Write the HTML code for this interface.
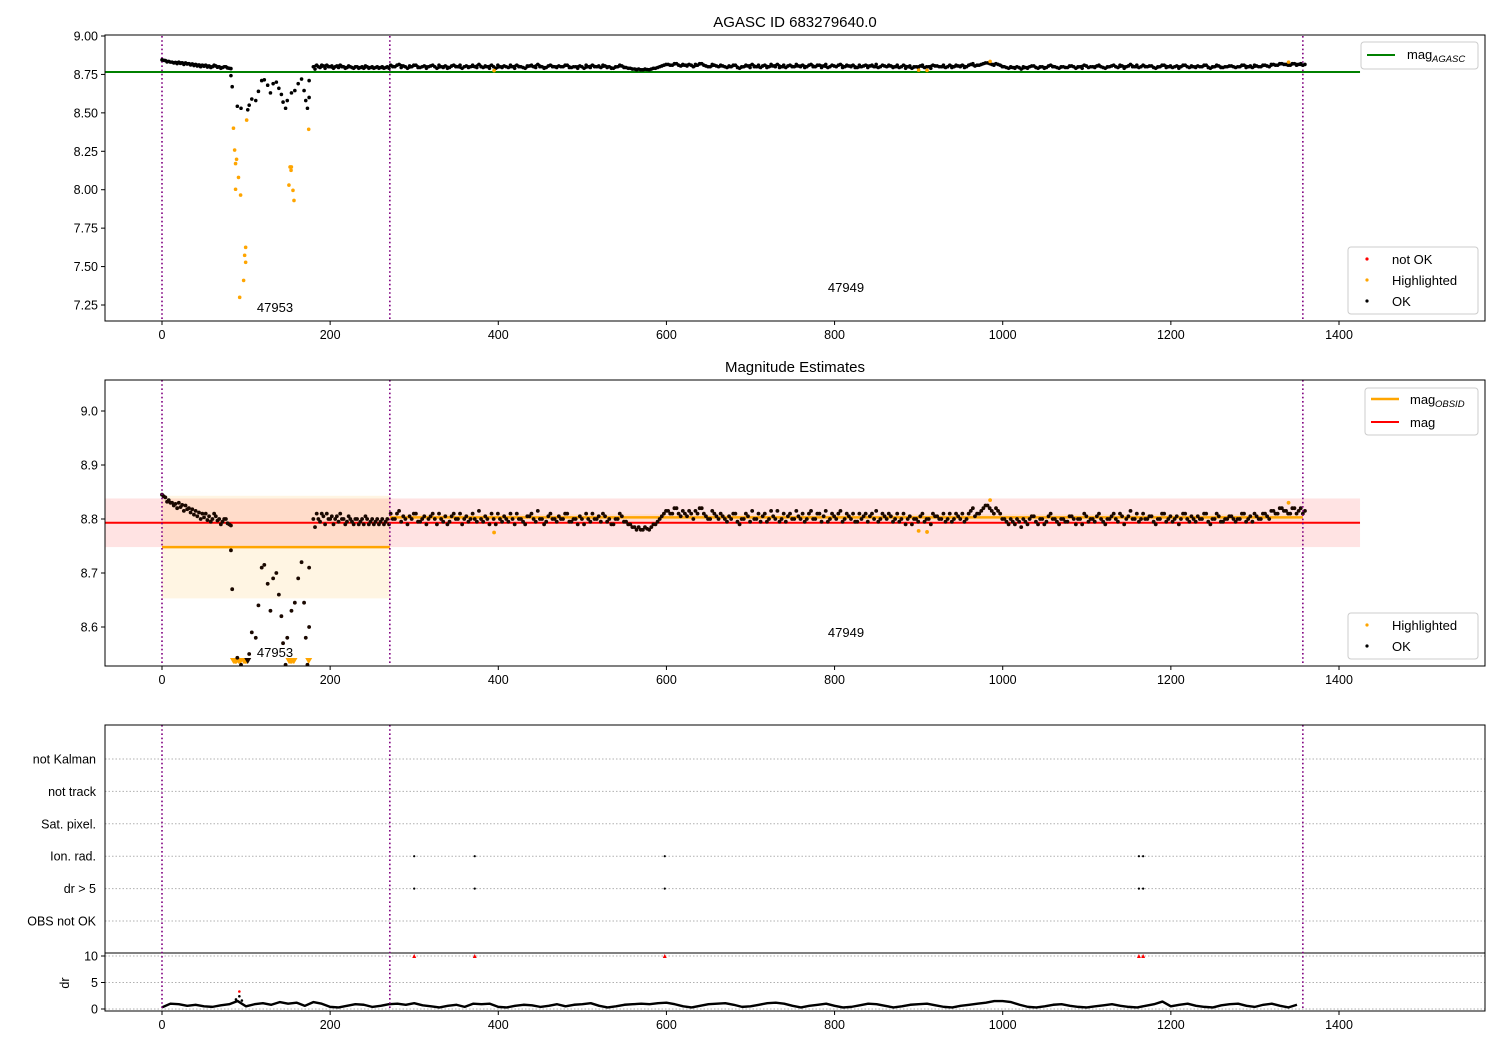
<!DOCTYPE html>
<html><head><meta charset="utf-8"><style>
body{margin:0;background:#fff}
svg{display:block;font-family:"Liberation Sans","DejaVu Sans",sans-serif}
</style></head><body>
<svg id="c" width="1500" height="1050" xmlns="http://www.w3.org/2000/svg"></svg>
<script>
// ---- data ----
const seg1Start = 0, seg1Step = 4;
const seg1Mag = [8.845,8.84,8.835,8.83,8.828,8.83,8.826,8.825,8.82,8.818,8.815,8.812,8.81,8.81,8.805,8.80,8.805,8.80,8.795,8.80,8.79];
const seg1MagB = [8.842,8.832,8.83,8.825,8.82,8.822,8.815,8.818,8.812,8.808,8.805,8.80,8.803,8.798,8.795,8.81,8.797,8.79,8.80,8.792,8.788];
const dipTime = [82,83.5,89.6,94,102,103.7,106.8,111.5,114.7,118.6,121.7,125.7,129,132.2,136,139,142,144,147,149,154,158,162,166,169,171,173,175,175];
const dipMag  = [8.742,8.67,8.543,8.53,8.52,8.55,8.59,8.58,8.64,8.71,8.715,8.68,8.63,8.69,8.70,8.66,8.62,8.57,8.53,8.58,8.63,8.645,8.69,8.72,8.645,8.58,8.53,8.71,8.60];
const seg2Start = 180, seg2Step = 4;
const seg2Mag = [8.80,8.81,8.795,8.805,8.81,8.80,8.79,8.805,8.81,8.80,8.795,8.80,8.79,8.80,8.795,8.79,8.80,8.795,8.79,8.80,8.795,8.79,8.80];
const seg2MagB = [8.785,8.80,8.81,8.79,8.80,8.805,8.80,8.795,8.80,8.79,8.805,8.795,8.80,8.79,8.80,8.805,8.79,8.80,8.795,8.79,8.80,8.795,8.79];
const seg3Start = 272, seg3Step = 5;
const seg3Mag = [
8.81,8.80,8.815,8.805,8.79,8.80,8.81,8.795,8.805,8.80,8.81,8.79,8.80,8.805,8.795,8.81,8.80,8.79,8.805,8.80,
8.80,8.815,8.795,8.80,8.81,8.79,8.80,8.805,8.795,8.80,8.81,8.80,8.79,8.805,8.80,8.815,8.80,8.795,8.81,8.80,
8.805,8.80,8.81,8.795,8.80,8.805,8.79,8.80,8.81,8.80,8.795,8.805,8.80,8.79,8.80,8.805,8.795,8.79,8.785,8.785,
8.78,8.782,8.785,8.79,8.80,8.81,8.815,8.81,8.82,8.805,8.81,8.815,8.80,8.81,8.82,8.805,8.80,8.81,8.80,8.805,
8.795,8.80,8.81,8.79,8.80,8.805,8.815,8.80,8.795,8.81,8.80,8.805,8.815,8.80,8.795,8.81,8.80,8.805,8.81,8.80,
8.815,8.80,8.81,8.805,8.795,8.81,8.80,8.815,8.80,8.805,8.81,8.795,8.80,8.81,8.805,8.80,8.795,8.81,8.80,8.805,
8.80,8.795,8.81,8.80,8.79,8.80,8.805,8.795,8.80,8.81,8.805,8.80,8.795,8.81,8.80,8.805,8.81,8.80,8.815,8.805,
8.81,8.82,8.825,8.815,8.82,8.81,8.80,8.79,8.795,8.80,8.785,8.795,8.80,8.805,8.79,8.80,8.795,8.81,8.80,8.79,
8.80,8.795,8.805,8.79,8.80,8.81,8.795,8.80,8.805,8.80,8.79,8.80,8.81,8.795,8.805,8.80,8.815,8.80,8.795,8.81,
8.80,8.805,8.79,8.80,8.81,8.80,8.795,8.805,8.80,8.81,8.795,8.80,8.805,8.80,8.81,8.79,8.80,8.805,8.795,8.80,
8.805,8.795,8.80,8.81,8.80,8.795,8.805,8.80,8.81,8.80,8.815,8.81,8.82,8.815,8.81,8.82,8.815,8.81];
const seg3MagB = [
8.80,8.81,8.795,8.80,8.805,8.81,8.795,8.80,8.79,8.805,8.80,8.81,8.795,8.79,8.805,8.80,8.81,8.80,8.795,8.81,
8.795,8.80,8.805,8.79,8.80,8.81,8.795,8.80,8.81,8.79,8.80,8.795,8.805,8.81,8.795,8.80,8.79,8.805,8.80,8.795,
8.80,8.81,8.795,8.80,8.79,8.80,8.81,8.795,8.80,8.805,8.81,8.795,8.79,8.80,8.81,8.795,8.79,8.785,8.78,8.78,
8.785,8.78,8.79,8.795,8.805,8.815,8.81,8.82,8.81,8.815,8.805,8.81,8.815,8.82,8.81,8.80,8.815,8.805,8.81,8.80,
8.805,8.81,8.795,8.80,8.81,8.795,8.80,8.81,8.805,8.795,8.815,8.80,8.795,8.81,8.805,8.80,8.815,8.80,8.795,8.81,
8.80,8.81,8.795,8.815,8.80,8.805,8.81,8.795,8.81,8.80,8.795,8.81,8.805,8.795,8.81,8.815,8.80,8.805,8.81,8.795,
8.81,8.80,8.79,8.805,8.80,8.795,8.81,8.80,8.79,8.805,8.80,8.81,8.80,8.795,8.81,8.80,8.795,8.81,8.82,8.81,
8.815,8.825,8.82,8.81,8.815,8.80,8.795,8.80,8.79,8.795,8.80,8.79,8.805,8.795,8.80,8.79,8.805,8.80,8.795,8.80,
8.795,8.805,8.80,8.80,8.79,8.805,8.80,8.795,8.81,8.795,8.80,8.805,8.80,8.81,8.79,8.805,8.80,8.81,8.80,8.80,
8.805,8.795,8.80,8.81,8.795,8.805,8.80,8.79,8.81,8.80,8.805,8.795,8.80,8.81,8.795,8.80,8.81,8.795,8.80,8.805,
8.80,8.80,8.81,8.795,8.805,8.81,8.80,8.81,8.805,8.815,8.81,8.82,8.815,8.81,8.82,8.81,8.82,8.815];
const hiTime = [85,86.4,88.7,87.5,91,87.5,93.5,99.5,98.3,99.5,97.1,92.4,100.7,174.5,152.3,153.9,153.5,151,155.8,157,395,900,910,985,1340];
const hiMag  = [8.40,8.258,8.198,8.17,8.08,8.003,7.965,7.625,7.573,7.528,7.41,7.30,8.453,8.393,8.148,8.148,8.126,8.03,7.996,7.93,8.775,8.778,8.776,8.835,8.83];
const obsBounds = [0,271,1357];
const obsIds = ["47953","47949"];
const magAgasc = 8.766;
const magAll = 8.793;
const magObs = [8.748,8.803];
const magObsLo = [8.653,8.797];
const magObsHi = [8.843,8.809];
const magBandLo = 8.748, magBandHi = 8.838;
const flagNames = ["not Kalman","not track","Sat. pixel.","Ion. rad.","dr > 5","OBS not OK"];
const flagTime = [300,372,598,1162,1167];
const flagRows = [3,4];
const drStart = 0, drStep = 10;
const drVals = [0.3,1.0,0.9,0.6,0.8,0.5,0.4,0.7,0.9,1.5,0.5,0.9,1.1,0.8,1.3,1.0,1.2,0.6,1.3,1.0,
0.4,0.3,0.6,0.9,0.8,0.4,0.6,0.9,1.0,0.8,1.1,0.7,0.5,0.3,0.6,0.8,0.4,1.0,0.9,1.0,
0.4,0.3,0.6,0.8,0.7,0.4,0.6,0.9,0.5,0.8,0.9,1.1,0.6,0.3,0.5,0.8,0.9,1.0,0.9,1.1,
1.2,0.9,0.5,0.3,0.6,0.9,1.0,1.1,0.8,0.4,0.5,0.8,1.1,1.2,1.0,0.6,0.3,0.6,0.8,1.0,
0.6,0.3,0.4,0.7,1.0,0.9,0.6,0.3,0.5,0.8,0.9,1.0,0.7,0.4,0.3,0.6,0.8,1.0,1.2,1.5,
1.5,1.3,0.8,0.4,0.3,0.5,0.8,0.9,0.6,0.4,0.3,0.5,0.7,0.9,0.6,0.4,0.3,0.6,0.9,1.4,
0.5,0.8,1.0,0.6,0.4,0.3,0.7,0.9,1.0,0.6,0.4,0.8,1.0,0.6,0.3,0.8];
const drSpikeTime = [88,92,95], drSpikeVal = [1.8,2.4,1.6];
const drRedTime = [92], drRedVal = [3.3];
const xTicks = [0,200,400,600,800,1000,1200,1400];
const y1Ticks = [9.00,8.75,8.50,8.25,8.00,7.75,7.50,7.25];
const y2Ticks = [9.0,8.9,8.8,8.7,8.6];
const drTicks = [0,5,10];

// ---- scales ----
const L=105,R=1485;
const x=t=>162+t*(1177/1400);
const y1=m=>36+(9-m)*(269/1.75);
const y2=m=>411+(9-m)*540;
const y2min=8.528;
const rowY=i=>759+i*32.4;
const yd=d=>1009-d*5.3;
const svg=document.getElementById('c');
const NS='http://www.w3.org/2000/svg';
function mk(tag,at,parent){const e=document.createElementNS(NS,tag);for(const k in at)e.setAttribute(k,at[k]);(parent||svg).appendChild(e);return e;}
function txt(s,at,parent){const e=mk('text',at,parent);e.textContent=s;return e;}
function segPts(start,step,a,off){return a.map((m,i)=>[start+i*step+off,m]);}
const segs=[segPts(seg1Start,seg1Step,seg1Mag,0),segPts(seg2Start,seg2Step,seg2Mag,0),segPts(seg3Start,seg3Step,seg3Mag,0)];
const pts=[].concat(segPts(seg1Start,seg1Step,seg1Mag,0),segPts(seg1Start,seg1Step,seg1MagB,2),
 dipTime.map((t,i)=>[t,dipMag[i]]),
 segPts(seg2Start,seg2Step,seg2Mag,0),segPts(seg2Start,seg2Step,seg2MagB,2),
 segPts(seg3Start,seg3Step,seg3Mag,0),segPts(seg3Start,seg3Step,seg3MagB,2.5));

function frame(top,bot,name){const r=mk('rect',{x:L,y:top,width:R-L,height:bot-top,fill:'none',stroke:'#000','stroke-width':1});}
function xAxis(bot,name){const g=mk('g',{});xTicks.forEach(t=>{mk('line',{x1:x(t),x2:x(t),y1:bot,y2:bot+4,stroke:'#000'},g);const e=txt(String(t),{x:x(t),y:bot+18,'font-size':12.5,'text-anchor':'middle'},g);});}
function yAxis(ticks,f,fmt,name){const g=mk('g',{});ticks.forEach(v=>{mk('line',{x1:L-4,x2:L,y1:f(v),y2:f(v),stroke:'#000'},g);const e=txt(v.toFixed(fmt),{x:L-7,y:f(v)+4.5,'font-size':12.5,'text-anchor':'end'},g);});}
function vlines(top,bot,name){obsBounds.forEach(t=>{const l=mk('line',{x1:x(t),x2:x(t),y1:top,y2:bot,stroke:'#800080','stroke-width':1.6,'stroke-dasharray':'1.6,2.6'});});}

// ===== Panel 1 =====
const t1=txt('AGASC ID 683279640.0',{x:795,y:27,'font-size':15,'text-anchor':'middle'});

const ga=mk('line',{x1:L,x2:x(1425),y1:y1(magAgasc),y2:y1(magAgasc),stroke:'#008000','stroke-width':2});

vlines(36,321,'obsid-boundary');
segs.forEach(s=>{const pl=mk('polyline',{points:s.map(p=>`${x(p[0])},${y1(p[1])}`).join(' '),fill:'none',stroke:'#000','stroke-width':2.6,'stroke-linejoin':'round'});});
pts.forEach(p=>{const c=mk('circle',{cx:x(p[0]),cy:y1(p[1]),r:1.8,fill:'#000'});});
hiTime.forEach((t,i)=>{const c=mk('circle',{cx:x(t),cy:y1(hiMag[i]),r:1.8,fill:'#ffa500'});});
let o1=txt(obsIds[0],{x:275,y:312,'font-size':13,'text-anchor':'middle'});
let o2=txt(obsIds[1],{x:846,y:292,'font-size':13,'text-anchor':'middle'});
frame(35,321,'axes-mag');xAxis(321,'x-axis-1');yAxis(y1Ticks,y1,2,'y-axis-1');
function legendBox(x0,y0,w,h,name){const r=mk('rect',{x:x0,y:y0,width:w,height:h,rx:3,fill:'#fff','fill-opacity':0.8,stroke:'#ccc'});}
legendBox(1361,42,117,27,'legend-agasc');
mk('line',{x1:1367,x2:1395,y1:55,y2:55,stroke:'#008000','stroke-width':2});
let la=txt('mag',{x:1407,y:59,'font-size':13});
txt('AGASC',{x:1432,y:62,'font-size':9.5,'font-style':'italic'});
legendBox(1348,247,130,67,'legend-status');
[['not OK','#f00',259],['Highlighted','#ffa500',280],['OK','#000',301]].forEach(e=>{mk('circle',{cx:1367,cy:e[2],r:1.6,fill:e[1]});const t=txt(e[0],{x:1392,y:e[2]+5,'font-size':13});});

// ===== Panel 2 =====
const t2=txt('Magnitude Estimates',{x:795,y:372,'font-size':15,'text-anchor':'middle'});

const cp=mk('clipPath',{id:'cp2'});mk('rect',{x:L,y:380,width:R-L,height:286},cp);
const g2=mk('g',{'clip-path':'url(#cp2)'});
let bd=mk('rect',{x:L,y:y2(magBandHi),width:x(1425)-L,height:y2(magBandLo)-y2(magBandHi),fill:'#ff0000','fill-opacity':0.11},g2);

for(let i=0;i<2;i++){const b=mk('rect',{x:x(obsBounds[i]),y:y2(magObsHi[i]),width:x(obsBounds[i+1])-x(obsBounds[i]),height:y2(magObsLo[i])-y2(magObsHi[i]),fill:'#ffa500','fill-opacity':0.11},g2);}
let rl=mk('line',{x1:L,x2:x(1425),y1:y2(magAll),y2:y2(magAll),stroke:'#f00','stroke-width':2},g2);

for(let i=0;i<2;i++){const l=mk('line',{x1:x(obsBounds[i]),x2:x(obsBounds[i+1]),y1:y2(magObs[i]),y2:y2(magObs[i]),stroke:'#ffa500','stroke-width':2.5},g2);}
function pt2(t,m,col,name){if(m<y2min){const X=x(t),Y=663;const p=mk('polygon',{points:`${X-3.5},${Y-5} ${X+3.5},${Y-5} ${X},${Y+1}`,fill:col},g2);}else{const c=mk('circle',{cx:x(t),cy:y2(m),r:1.9,fill:col},g2);}}
hiTime.forEach((t,i)=>pt2(t,hiMag[i],'#ffa500','highlighted-point'));
pts.forEach(p=>pt2(p[0],p[1],'#1a0800','ok-point'));
vlines(380,666,'obsid-boundary');
let o3=txt(obsIds[0],{x:275,y:657,'font-size':13,'text-anchor':'middle'});
let o4=txt(obsIds[1],{x:846,y:637,'font-size':13,'text-anchor':'middle'});
frame(380,666,'axes-estimates');xAxis(666,'x-axis-2');yAxis(y2Ticks,y2,1,'y-axis-2');
legendBox(1365,388,113,47,'legend-mag');
mk('line',{x1:1371,x2:1399,y1:399,y2:399,stroke:'#ffa500','stroke-width':2.5});
let lm1=txt('mag',{x:1410,y:404,'font-size':13});
txt('OBSID',{x:1435,y:407,'font-size':9.5,'font-style':'italic'});
mk('line',{x1:1371,x2:1399,y1:422,y2:422,stroke:'#f00','stroke-width':2});
let lm2=txt('mag',{x:1410,y:427,'font-size':13});
legendBox(1348,613,130,46,'legend-status-2');
[['Highlighted','#ffa500',625],['OK','#000',646]].forEach(e=>{mk('circle',{cx:1367,cy:e[2],r:1.6,fill:e[1]});const t=txt(e[0],{x:1392,y:e[2]+5,'font-size':13});});

// ===== Panel 3 =====
flagNames.forEach((n,i)=>{mk('line',{x1:L,x2:R,y1:rowY(i),y2:rowY(i),stroke:'#b0b0b0','stroke-dasharray':'1.5,2'});const t=txt(n,{x:96,y:rowY(i)+4.5,'font-size':12.5,'text-anchor':'end'});});
flagTime.forEach(t=>flagRows.forEach(r=>{const c=mk('circle',{cx:x(t),cy:rowY(r),r:1.1,fill:'#000'});}));
drTicks.forEach(d=>mk('line',{x1:L,x2:R,y1:yd(d),y2:yd(d),stroke:'#b0b0b0','stroke-dasharray':'1.5,2'}));
let sep=mk('line',{x1:L,x2:R,y1:953,y2:953,stroke:'#000'});
const drPts=drVals.map((d,i)=>`${x(drStart+i*drStep)},${yd(d)}`).join(' ');
let dl=mk('polyline',{points:drPts,fill:'none',stroke:'#000','stroke-width':2.4,'stroke-linejoin':'round'});

drSpikeTime.forEach((t,i)=>{const c=mk('circle',{cx:x(t),cy:yd(drSpikeVal[i]),r:1.3,fill:'#000'});});
drRedTime.forEach((t,i)=>{const c=mk('circle',{cx:x(t),cy:yd(drRedVal[i]),r:1.3,fill:'#f00'});});
flagTime.forEach(t=>{const X=x(t),Y=yd(10);const p=mk('polygon',{points:`${X-2},${Y+2} ${X+2},${Y+2} ${X},${Y-2}`,fill:'#f00'});});
vlines(725,1011,'obsid-boundary');
frame(725,1011,'axes-flags');xAxis(1011,'x-axis-3');
const gd=mk('g',{});
drTicks.forEach(d=>{mk('line',{x1:L-4,x2:L,y1:yd(d),y2:yd(d),stroke:'#000'},gd);txt(String(d),{x:L-7,y:yd(d)+4.5,'font-size':12.5,'text-anchor':'end'},gd);});
let dy=txt('dr',{x:0,y:0,'font-size':12.5,'text-anchor':'middle',transform:'translate(69,983) rotate(-90)'});

</script>
</body></html>
